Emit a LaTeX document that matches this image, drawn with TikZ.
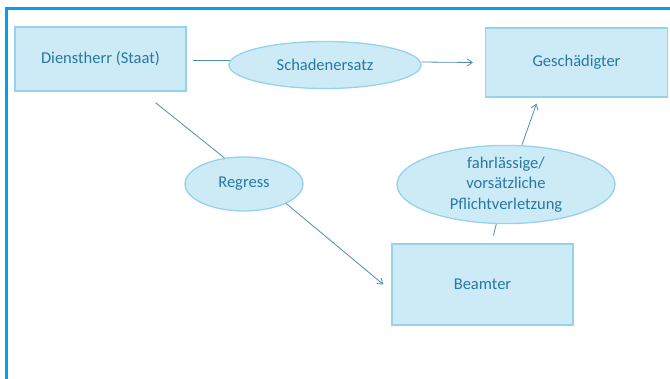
\documentclass[tikz,border=0pt]{standalone}
\usepackage{fontspec}
\setmainfont{Carlito}
\usetikzlibrary{arrows.meta,shapes.geometric,backgrounds}
\definecolor{boxfill}{RGB}{205,235,247}
\definecolor{boxline}{RGB}{150,210,236}
\definecolor{txt}{RGB}{40,120,160}
\definecolor{conn}{RGB}{75,145,172}
\definecolor{frame}{RGB}{0,162,228}
\tikzset{
  box/.style={draw=boxline, line width=1.3pt, fill=boxfill, text=txt, inner sep=0pt, font=\fontsize{16.5}{20.5}\selectfont},
  oval/.style={ellipse, draw=boxline, line width=1.3pt, fill=boxfill, text=txt, inner sep=0pt, align=center, font=\fontsize{16.5}{20.5}\selectfont},
  link/.style={draw=conn, line width=0.8pt},
  arr/.style={link, -{Straight Barb[length=5pt,width=7pt]}}
}
\begin{document}
\begin{tikzpicture}[x=1pt,y=-1pt]
\useasboundingbox (0,0) rectangle (670,378);
\begin{scope}
\clip (0,0) rectangle (670,378);
\draw[frame, line width=3pt] (6,400) -- (6,8) -- (700,8);
\end{scope}
\node[box, minimum width=171pt, minimum height=64pt] (dienst) at (100.5,59) {Dienstherr (Staat)};
\node[box, minimum width=182pt, minimum height=69pt] (gesch) at (576.5,62.5) {Geschädigter};
\node[box, minimum width=181pt, minimum height=81pt] (beamter) at (482.5,284.5) {Beamter};
\node[oval, minimum width=192pt, minimum height=47pt] (schaden) at (325,65) {Schadenersatz};
\node[oval, minimum width=118pt, minimum height=54pt] (regress) at (244,184) {Regress};
\node[oval, minimum width=218pt, minimum height=75pt] (fahr) at (506,184.5) {fahrlässige/\\vorsätzliche\\Pflichtverletzung};
\begin{scope}[on background layer]
\draw[link] ([xshift=6pt,yshift=-1pt]dienst.east) -- ([yshift=5pt]schaden.west -| schaden.center);
\draw[link] ([xshift=55pt,yshift=-11pt]dienst.south) -- ([xshift=13pt]regress.center);
\draw[link] ([xshift=11pt,yshift=8pt]beamter.north) -- (fahr.center);
\end{scope}
\draw[arr] ([yshift=3pt]schaden.east) -- ([xshift=-12pt]gesch.west);
\draw[arr] (regress.south east) -- ([xshift=-8pt]beamter.west);
\draw[arr] ([xshift=16pt]fahr.north) -- ([xshift=-40pt,yshift=-6pt]gesch.south);
\end{tikzpicture}
\end{document}
